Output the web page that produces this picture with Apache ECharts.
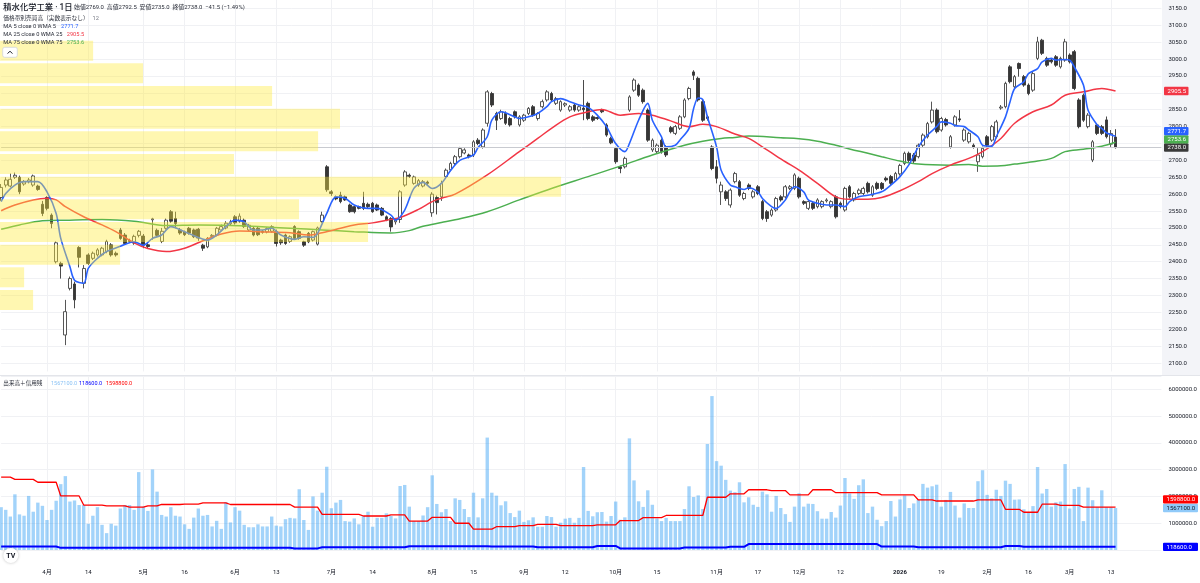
<!DOCTYPE html>
<html><head><meta charset="utf-8">
<script src="https://cdn.jsdelivr.net/npm/echarts@6/dist/echarts.min.js"></script>
<style>html,body{margin:0;padding:0;background:#fff}#c{width:1200px;height:583px}</style>
</head><body><div id="c"></div>
<script>
// ---------- DATA ----------
const holidays = ['2025-03-20','2025-04-29','2025-05-05','2025-05-06','2025-07-21','2025-08-11','2025-09-15','2025-09-23','2025-10-13','2025-11-03','2025-11-24','2025-12-31','2026-01-01','2026-01-02','2026-01-12','2026-02-11','2026-02-23'];
const firstDay = '2025-03-17', lastDay = '2026-03-16';
const tickDates = ['2025-04-01','2025-04-14','2025-05-01','2025-05-16','2025-06-02','2025-06-13','2025-07-01','2025-07-14','2025-08-01','2025-08-15','2025-09-01','2025-09-12','2025-10-01','2025-10-15','2025-11-04','2025-11-17','2025-12-01','2025-12-12','2026-01-05','2026-01-19','2026-02-02','2026-02-16','2026-03-02','2026-03-13'];
const tickText = ['4月','14','5月','16','6月','13','7月','14','8月','15','9月','12','10月','15','11月','17','12月','12','2026','19','2月','16','3月','13'];
const priceTicks = [2100,3150,50];

// [open, close, low, high]
const ohlc = [
[2590,2620,2580,2630],[2627,2642,2620,2650],[2624,2644,2620,2661],[2650,2656,2645,2664],[2650,2607,2600,2655],[2630,2637,2625,2642],[2637,2642,2632,2648],[2627,2654,2622,2658],[2624,2614,2610,2628],[2570,2543,2535,2580],
[2590,2558,2552,2594],[2538,2513,2499,2543],[2400,2456,2395,2460],[2395,2387,2350,2400],[2183,2252,2153,2287],[2321,2350,2315,2356],[2334,2287,2262,2341],[2442,2413,2383,2446],[2336,2380,2321,2390],[2420,2395,2390,2425],
[2410,2425,2405,2430],[2420,2435,2415,2440],[2420,2440,2416,2444],[2430,2460,2425,2465],[2450,2420,2415,2455],[2425,2420,2415,2430],[2494,2469,2465,2500],[2479,2454,2450,2485],[2463,2460,2455,2468],[2455,2475,2450,2480],
[2478,2490,2472,2494],[2476,2449,2440,2482],[2450,2445,2440,2455],[2524,2527,2465,2530],[2493,2478,2473,2498],[2460,2490,2455,2500],[2499,2523,2495,2528],[2548,2520,2515,2553],[2528,2513,2499,2548],[2494,2485,2480,2500],
[2488,2480,2476,2492],[2499,2485,2480,2503],[2494,2474,2470,2498],[2496,2470,2462,2500],[2449,2440,2432,2453],[2444,2469,2440,2473],[2475,2478,2470,2482],[2479,2499,2475,2503],[2494,2504,2490,2510],[2500,2514,2496,2520],
[2512,2518,2508,2524],[2533,2515,2510,2538],[2520,2535,2515,2543],[2523,2504,2500,2528],[2494,2508,2490,2512],[2499,2479,2475,2503],[2499,2480,2476,2504],[2490,2487,2483,2494],[2488,2498,2484,2502],[2490,2504,2486,2508],
[2489,2454,2445,2495],[2464,2456,2450,2468],[2479,2454,2450,2483],[2460,2474,2456,2478],[2504,2469,2465,2508],[2489,2469,2465,2493],[2459,2449,2444,2462],[2484,2459,2455,2488],[2464,2489,2460,2492],[2452,2500,2448,2504],
[2519,2538,2515,2548],[2681,2613,2607,2686],[2607,2602,2595,2612],[2592,2586,2582,2596],[2597,2578,2573,2607],[2592,2583,2580,2596],[2568,2548,2545,2572],[2563,2548,2543,2566],[2563,2558,2555,2566],[2573,2558,2553,2607],
[2570,2563,2558,2575],[2573,2548,2545,2577],[2568,2553,2550,2572],[2558,2538,2535,2562],[2533,2523,2520,2537],[2528,2503,2489,2532],[2518,2523,2510,2527],[2525,2607,2515,2612],[2627,2666,2622,2671],[2656,2653,2648,2661],
[2632,2651,2628,2655],[2627,2640,2622,2645],[2624,2637,2620,2642],[2636,2632,2626,2640],[2545,2600,2533,2606],[2590,2575,2540,2596],[2592,2632,2580,2640],[2652,2671,2645,2676],[2672,2691,2668,2696],[2691,2711,2686,2716],
[2711,2735,2706,2740],[2722,2731,2718,2736],[2716,2711,2706,2720],[2716,2755,2710,2760],[2760,2750,2745,2766],[2740,2790,2735,2795],[2810,2903,2800,2908],[2898,2864,2858,2903],[2839,2819,2790,2844],[2824,2844,2820,2850],
[2839,2810,2805,2845],[2824,2805,2800,2829],[2844,2829,2824,2848],[2805,2829,2800,2834],[2819,2834,2814,2838],[2839,2854,2834,2858],[2859,2834,2829,2864],[2824,2839,2818,2843],[2859,2874,2854,2880],[2879,2903,2874,2908],
[2898,2879,2874,2903],[2869,2883,2864,2888],[2849,2874,2844,2878],[2864,2868,2858,2872],[2849,2859,2844,2864],[2864,2849,2844,2868],[2849,2859,2844,2863],[2855,2850,2819,2938],[2869,2824,2819,2874],[2829,2819,2814,2834],
[2827,2824,2820,2830],[2849,2844,2840,2853],[2805,2775,2770,2810],[2765,2752,2748,2770],[2735,2696,2690,2740],[2681,2676,2662,2685],[2681,2706,2676,2711],[2849,2888,2844,2893],[2908,2938,2903,2943],[2923,2893,2888,2928],
[2908,2874,2868,2913],[2849,2760,2755,2854],[2731,2760,2725,2765],[2726,2745,2720,2750],[2760,2726,2720,2765],[2740,2716,2710,2745],[2797,2785,2780,2802],[2780,2800,2775,2805],[2795,2829,2790,2834],[2829,2879,2825,2884],
[2883,2913,2878,2918],[2962,2952,2938,2967],[2943,2879,2874,2948],[2874,2819,2814,2879],[2829,2824,2818,2834],[2740,2676,2671,2745],[2681,2647,2632,2701],[2607,2627,2568,2637],[2607,2587,2580,2612],[2568,2612,2560,2617],
[2637,2661,2632,2666],[2637,2597,2592,2642],[2587,2602,2582,2607],[2627,2617,2612,2632],[2592,2607,2587,2612],[2622,2602,2597,2627],[2578,2528,2523,2583],[2548,2528,2518,2553],[2538,2553,2533,2558],[2553,2587,2548,2592],
[2592,2583,2578,2597],[2592,2622,2587,2627],[2617,2622,2612,2627],[2617,2657,2612,2662],[2647,2592,2587,2652],[2578,2573,2568,2582],[2558,2578,2553,2582],[2573,2558,2553,2578],[2563,2583,2558,2588],[2563,2578,2558,2582],
[2580,2583,2575,2588],[2563,2578,2558,2582],[2592,2533,2528,2597],[2573,2563,2558,2578],[2553,2617,2548,2622],[2622,2592,2587,2627],[2583,2602,2578,2607],[2602,2612,2597,2617],[2602,2617,2597,2622],[2632,2607,2602,2637],
[2597,2622,2592,2627],[2632,2617,2612,2637],[2632,2617,2612,2636],[2647,2642,2637,2652],[2652,2632,2627,2657],[2642,2661,2637,2666],[2660,2685,2655,2690],[2691,2721,2686,2726],[2721,2700,2695,2726],[2716,2698,2692,2722],
[2711,2745,2706,2750],[2745,2775,2740,2780],[2770,2809,2765,2814],[2814,2849,2809,2874],[2849,2785,2780,2854],[2790,2824,2785,2829],[2821,2805,2800,2826],[2740,2770,2735,2775],[2805,2829,2800,2834],[2823,2820,2814,2849],
[2760,2790,2755,2795],[2755,2780,2750,2785],[2745,2740,2735,2750],[2696,2716,2666,2736],[2711,2736,2706,2741],[2770,2745,2740,2775],[2760,2800,2755,2805],[2770,2814,2765,2820],[2855,2858,2850,2864],[2859,2928,2854,2933],
[2977,2933,2928,2982],[2918,2948,2913,2953],[2987,2972,2948,2990],[2948,2923,2918,2953],[2923,2898,2893,2928],[2908,2957,2903,2962],[3002,3051,2997,3066],[3056,3017,3012,3060],[3002,2982,2977,3007],[2997,2992,2987,3002],
[3007,2982,2977,3012],[2977,3002,2972,3007],[2997,3051,2992,3060],[3012,2992,2987,3017],[3022,2913,2908,3027],[2879,2800,2795,2884],[2893,2819,2814,2898],[2800,2834,2795,2840],[2701,2755,2695,2760],[2805,2780,2775,2810],
[2800,2780,2775,2805],[2820,2770,2765,2830],[2748,2779.5,2740,2790],[2769,2738,2735,2792.5]
];

// volume, in 10,000 shares
const volume = [
160,150,125,208,133,128,202,143,177,165, 112,150,184,246,276,181,185,168,168,98,
128,160,94,63,98,91,155,168,168,150, 291,162,146,301,218,131,125,160,128,125,
96,79,121,155,128,131,88,109,79,179, 103,160,147,94,85,85,96,88,88,125,
91,88,115,120,118,227,112,75,200,147, 214,311,156,177,187,108,106,118,96,127,
143,87,120,120,137,127,118,239,243,162, 108,108,129,160,279,172,141,153,108,193,
187,153,123,214,122,193,420,214,203,167, 182,138,123,147,105,111,122,87,87,127,
123,87,102,117,120,102,120,310,146,126, 141,142,106,127,181,113,122,417,260,182,
161,223,169,118,108,120,108,108,108,153, 238,198,204,153,396,575,332,315,262,222,
216,253,178,197,169,161,218,208,143,202, 157,134,105,162,212,162,173,172,145,117,
117,142,121,166,269,211,191,242,264,138, 162,113,89,108,183,125,189,204,157,174,
187,247,233,238,244,162,187,217,166,121, 174,157,157,257,298,206,193,225,202,259,
247,188,189,152,140,164,310,211,228,162, 178,181,321,155,228,236,108,233,186,160,
223,160,160,156.71
];

// margin buying balance (red), in 10,000 shares
const marginBuy = [
272,272,272,264,264,264,264,264,253,253, 253,253,253,202,202,202,202,202,168,168,
168,168,168,165,165,165,165,165,160,160, 160,160,165,165,165,170,170,170,170,170,
171,171,171,171,176,176,176,176,176,176, 170,170,170,170,170,170,170,170,170,170,
170,170,170,170,160,160,160,160,160,160, 133,133,133,133,133,133,133,133,133,127,
127,127,127,127,127,131,131,131,131,108, 108,108,108,108,122,122,122,122,122,100,
100,100,100,78,78,78,78,78,87,87, 87,87,87,91,91,91,91,96,96,96,
96,96,91,91,91,91,91,91,91,91, 94,94,94,94,94,110,110,110,110,110,
121,121,121,121,121,129,129,129,129,129, 129,129,129,129,197,197,197,197,197,210,
210,210,210,225,225,225,225,225,222,222, 222,222,206,206,206,206,206,225,225,225,
225,225,214,214,214,214,214,214,214,214, 214,214,206,206,206,206,206,206,206,206,
187,187,187,187,183,183,183,183,183,183, 183,183,183,187,187,187,187,187,187,152,
152,152,152,141,141,141,141,171,171,171, 171,167,167,167,167,167,159.88,159.88,159.88,159.88,
159.88,159.88,159.88,159.88
];

// margin selling balance (blue), in 10,000 shares
const marginSell = [
13,13,13,13,13,13,13,13,13,13, 13,13,13,8,8,8,8,8,8,8,
8,8,8,8,8,8,8,8,8,8, 8,8,8,8,8,8,8,8,8,8,
8,8,8,8,8,8,8,8,8,8, 8,8,8,8,8,8,8,8,8,8,
8,8,8,8,6,6,6,6,6,6, 10,10,10,10,10,10,10,10,10,10,
10,10,10,10,10,10,10,10,10,14, 14,14,14,14,14,14,14,14,14,14,
14,14,14,14,14,14,14,13,13,13, 13,13,13,13,13,13,13,10,10,10,
10,10,10,10,10,10,10,10,10,10, 15,15,15,15,15,6,6,6,6,6,
6,6,6,6,6,6,6,6,6,9, 9,9,9,9,9,9,9,9,9,12,
12,12,12,22,22,22,22,22,22,22, 22,22,22,22,22,22,22,22,22,22,
22,22,22,22,22,22,22,22,22,22, 22,22,13,13,13,13,13,13,13,13,
10,10,10,10,10,10,10,10,10,10, 10,10,10,10,10,10,10,10,10,15,
15,15,15,11.86,11.86,11.86,11.86,11.86,11.86,11.86, 11.86,11.86,11.86,11.86,11.86,11.86,11.86,11.86,11.86,11.86,
11.86,11.86,11.86,11.86
];

// moving averages: [bar index, value]
const wma5 = [[0,2578],[1,2602],[3,2627],[5,2637],[8,2637],[10,2607],[12,2543],[13,2469],[15,2385],[16,2345],[18,2336],[19,2380],[21,2410],[23,2430],[26,2446],[29,2459],[31,2449],[33,2469],[35,2479],[37,2504],[40,2489],[43,2472],[45,2464],[47,2479],[49,2504],[51,2523],[53,2518],[55,2494],[57,2494],[59,2499],[61,2479],[64,2466],[66,2474],[68,2472],[69,2484],[71,2543],[73,2592],[75,2588],[77,2568],[80,2558],[82,2558],[85,2538],[86,2523],[88,2553],[90,2617],[92,2635],[94,2617],[96,2632],[98,2670],[100,2700],[103,2716],[104,2738],[106,2770],[107,2819],[109,2844],[110,2841],[112,2829],[113,2824],[115,2829],[117,2839],[119,2859],[120,2874],[122,2883],[124,2874],[126,2864],[128,2857],[130,2834],[132,2800],[134,2750],[136,2726],[137,2750],[139,2819],[141,2869],[142,2819],[144,2770],[145,2740],[147,2745],[148,2760],[150,2795],[151,2854],[152,2885],[153,2880],[154,2829],[156,2740],[157,2671],[159,2627],[160,2622],[162,2614],[163,2619],[165,2607],[166,2587],[168,2563],[169,2558],[171,2583],[172,2607],[173,2622],[175,2607],[176,2583],[178,2573],[180,2568],[182,2568],[184,2563],[185,2578],[187,2592],[189,2597],[192,2607],[194,2627],[196,2652],[198,2688],[200,2740],[202,2775],[204,2800],[205,2814],[207,2810],[208,2803],[210,2800],[211,2790],[213,2770],[214,2745],[216,2742],[217,2770],[219,2829],[220,2874],[221,2913],[223,2933],[224,2957],[226,2972],[227,2992],[229,3002],[230,2997],[232,2999],[233,2997],[234,2977],[236,2923],[237,2849],[239,2805],[240,2795],[241,2782],[243,2771.7]];
const wma25 = [[0,2551],[3,2568],[7,2583],[10,2588],[12,2583],[14,2563],[18,2533],[22,2509],[25,2489],[29,2456],[32,2439],[36,2430],[40,2440],[44,2462],[48,2482],[52,2491],[56,2489],[63,2486],[67,2479],[70,2486],[74,2499],[77,2509],[81,2515],[84,2523],[87,2531],[91,2555],[94,2578],[96,2588],[99,2600],[106,2657],[113,2726],[117,2765],[120,2795],[124,2829],[128,2844],[131,2851],[135,2834],[139,2839],[142,2834],[146,2817],[150,2800],[153,2807],[156,2800],[160,2778],[163,2765],[167,2731],[171,2696],[174,2671],[178,2632],[182,2592],[185,2585],[189,2585],[192,2590],[196,2610],[200,2637],[203,2661],[207,2686],[211,2706],[214,2726],[218,2765],[221,2810],[225,2844],[229,2864],[232,2893],[236,2903],[240,2913],[243,2905.5]];
const wma75 = [[0,2496],[4,2509],[9,2521],[14,2523],[22,2525],[29,2520],[36,2507],[43,2509],[48,2508],[56,2504],[63,2499],[70,2494],[77,2489],[85,2485],[89,2492],[92,2505],[96,2516],[99,2524],[106,2548],[113,2583],[120,2617],[128,2652],[135,2683],[142,2716],[149,2745],[153,2757],[157,2765],[160,2768],[163,2772],[170,2767],[174,2764],[178,2757],[182,2745],[185,2734],[189,2721],[192,2711],[196,2698],[200,2689],[207,2686],[211,2688],[214,2683],[218,2684],[221,2689],[225,2696],[229,2706],[232,2726],[236,2733],[240,2742],[243,2753.6]];

// volume profile (relative, largest row = 100), top row first
const profileBins = ['2989-3056','2922-2989','2855-2922','2788-2855','2721-2788','2654-2721','2587-2654','2520-2587','2453-2520','2386-2453','2319-2386','2252-2319'];
const profileVol = [16.6,25.5,48.5,60.6,56.7,41.7,100,53.3,65.6,21.4,4.3,5.9];

// ---------- BUILD ----------
function tradingDays(){
  const out=[]; const d=new Date(firstDay+'T00:00:00Z'); const end=new Date(lastDay+'T00:00:00Z').getTime();
  while(d.getTime()<=end){ const w=d.getUTCDay(); const s=d.toISOString().slice(0,10);
    if(w!==0&&w!==6&&holidays.indexOf(s)<0) out.push(s); d.setUTCDate(d.getUTCDate()+1); }
  return out;
}
const dates = tradingDays();
const SLOTS = 254;
const cats = dates.concat(Array.from({length: SLOTS-dates.length}, (_,k)=>'pad'+k));
const tickMap = {}; tickDates.forEach((d,i)=>tickMap[d]=tickText[i]);
const isTick = (idx, val) => tickMap[val] !== undefined;
const FF = 'Roboto, "Noto Sans CJK JP", "Noto Sans", sans-serif';
const GL = 1.14, GR = 38.6;
const gridLine = '#f0f1f4';
const M = 1e4;

const chart = echarts.init(document.getElementById('c'));
const option = {
  animation:false, backgroundColor:'#ffffff',
  textStyle:{fontFamily:FF},
  grid:[
    {left:GL, right:GR, top:0, height:371.45, outerBoundsMode:'none'},
    {left:GL, right:GR, top:376, height:174, outerBoundsMode:'none'},
    {left:0, right:GR, top:39.3, height:272, outerBoundsMode:'none'}
  ],
  xAxis:[
    {type:'category', gridIndex:0, data:cats, boundaryGap:false, axisLine:{show:false}, axisTick:{show:false}, axisLabel:{show:false},
     splitLine:{show:true, interval:isTick, lineStyle:{color:gridLine, width:1}}},
    {type:'category', gridIndex:1, data:cats, boundaryGap:false, axisLine:{show:false}, axisTick:{show:false},
     axisLabel:{interval:isTick, margin:19, fontSize:6, color:'#131722', fontFamily:FF,
       formatter:v=> v==='2026-01-05' ? '{b|2026}' : (tickMap[v]||''), rich:{b:{fontWeight:'bold', fontSize:6, color:'#131722', fontFamily:FF}}},
     splitLine:{show:true, interval:isTick, lineStyle:{color:gridLine, width:1}}},
    {type:'value', gridIndex:2, min:0, max:207, show:false}
  ],
  yAxis:[
    {type:'value', gridIndex:0, position:'right', min:2075, max:3175, interval:25, scale:true,
     axisLine:{show:false}, axisTick:{show:false},
     axisLabel:{margin:7, fontSize:6, color:'#131722', fontFamily:FF, formatter:v=> (v%priceTicks[2]===0 && v>=priceTicks[0] && v<=priceTicks[1]) ? v.toFixed(1) : ''},
     splitLine:{show:true, lineStyle:{color:['rgba(0,0,0,0)', gridLine], width:1}}},
    {type:'value', gridIndex:1, position:'right', min:0, max:6.5e6, interval:1e6,
     axisLine:{show:false}, axisTick:{show:false},
     axisLabel:{margin:7, fontSize:6, color:'#131722', fontFamily:FF, showMaxLabel:false, showMinLabel:false, formatter:v=>v.toFixed(1)},
     splitLine:{show:true, lineStyle:{color:gridLine, width:1}}},
    {type:'category', gridIndex:2, data:profileBins, inverse:true, show:false}
  ],
  series:[
    {type:'candlestick', name:'price', xAxisIndex:0, yAxisIndex:0, data:ohlc, barWidth:3.2, z:2,
     itemStyle:{color:'#ffffff', color0:'#363636', borderColor:'#444444', borderColor0:'#363636', borderWidth:0.9},
     markLine:{silent:true, symbol:'none', label:{show:false}, lineStyle:{color:'#c8cad0', width:1, type:'solid'},
       data:[{yAxis: ohlc[ohlc.length-1][1]}]}},
    {type:'line', name:'WMA75', xAxisIndex:0, yAxisIndex:0, data:wma75, showSymbol:false, smooth:0.35, z:3, lineStyle:{color:'#4caf50', width:1.5}},
    {type:'line', name:'WMA25', xAxisIndex:0, yAxisIndex:0, data:wma25, showSymbol:false, smooth:0.35, z:3, lineStyle:{color:'#f23645', width:1.5}},
    {type:'line', name:'WMA5', xAxisIndex:0, yAxisIndex:0, data:wma5, showSymbol:false, smooth:0.3, z:3, lineStyle:{color:'#2962ff', width:1.6}},
    {type:'bar', name:'profile', xAxisIndex:2, yAxisIndex:2, data:profileVol, barWidth:20, z:6, silent:true, itemStyle:{color:'rgba(255,235,59,0.4)'}},
    {type:'bar', name:'volume', xAxisIndex:1, yAxisIndex:1, data:volume.map(v=>v*M), barWidth:'74%', z:2, itemStyle:{color:'rgba(33,150,243,0.42)'}},
    {type:'line', name:'buy', xAxisIndex:1, yAxisIndex:1, data:marginBuy.map(v=>v*M), showSymbol:false, z:3, lineStyle:{color:'#ff0000', width:1.3}},
    {type:'line', name:'sell', xAxisIndex:1, yAxisIndex:1, data:marginSell.map(v=>v*M), showSymbol:false, z:3, lineStyle:{color:'#0000ff', width:2}}
  ]
};
chart.setOption(option);

// ---------- annotations ----------
const last = ohlc[ohlc.length-1], prev = ohlc[ohlc.length-2];
const chg = last[1]-prev[1], pct = chg/prev[1]*100;
const lastOf = a => a[a.length-1][1];
const txt = (x,y,text,fill,size,weight) => ({type:'text', x:x, y:y, z:50, silent:true,
  style:{text:text, fill:fill, fontSize:size, fontWeight:weight||'normal', fontFamily:FF, verticalAlign:'middle', align:'left'}});
const G = [];
G.push({type:'rect', z:-20, silent:true, shape:{x:1162, y:0, width:38, height:375}, style:{fill:'#f3f4f8'}});
G.push({type:'line', z:40, silent:true, shape:{x1:0, y1:375.5, x2:1200, y2:375.5}, style:{stroke:'#e3e5ea', lineWidth:1}});
G.push(txt(3.3, 7.6, '積水化学工業 · 1日', '#131722', 8.3, 500));
G.push(txt(74, 7.8, '始値'+last[0].toFixed(1)+'  高値'+last[3].toFixed(1)+'  安値'+last[2].toFixed(1)+'  終値'+last[1].toFixed(1)+'  '+(chg<0?'−':'+')+Math.abs(chg).toFixed(1)+' ('+(pct<0?'−':'+')+Math.abs(pct).toFixed(2)+'%)', '#2a2e39', 5.9));
G.push(txt(3.3, 18.3, '価格帯別売買高（実数表示なし）', '#2a2e39', 5.7));
G.push(txt(92.5, 18.3, String(profileVol.length), '#787b86', 5.7));
G.push(txt(3.3, 26.6, 'MA 5 close 0 WMA 5', '#2a2e39', 5.7));
G.push(txt(61, 26.6, lastOf(wma5).toFixed(1), '#2962ff', 5.7));
G.push(txt(3.3, 34.5, 'MA 25 close 0 WMA 25', '#2a2e39', 5.7));
G.push(txt(66.7, 34.5, lastOf(wma25).toFixed(1), '#f23645', 5.7));
G.push(txt(3.3, 42.6, 'MA 75 close 0 WMA 75', '#2a2e39', 5.7));
G.push(txt(66.7, 42.6, lastOf(wma75).toFixed(1), '#4caf50', 5.7));
G.push({type:'rect', z:50, silent:true, shape:{x:2.7, y:47.3, width:14.6, height:10, r:2}, style:{fill:'#ffffff', stroke:'#d1d4dc', lineWidth:0.8}});
G.push({type:'polyline', z:51, silent:true, shape:{points:[[7.6,53.6],[10,51.2],[12.4,53.6]]}, style:{stroke:'#131722', lineWidth:1, fill:null}});
G.push(txt(3.3, 383.7, '出来高＋信用残', '#2a2e39', 5.6));
G.push(txt(51, 383.7, (volume[volume.length-1]*M).toFixed(1), '#8cc3f5', 5.5));
G.push(txt(79, 383.7, (marginSell[marginSell.length-1]*M).toFixed(1), '#0000ff', 5.5));
G.push(txt(106, 383.7, (marginBuy[marginBuy.length-1]*M).toFixed(1), '#ff0000', 5.5));
G.push({type:'circle', z:50, silent:true, shape:{cx:10.8, cy:555.5, r:7.5}, style:{fill:'#ffffff', shadowBlur:3, shadowColor:'rgba(0,0,0,0.25)'}});
G.push({type:'text', z:51, silent:true, x:10.8, y:555.8, style:{text:'TV', fill:'#131722', fontSize:7, fontWeight:'bold', fontFamily:FF, align:'center', verticalAlign:'middle'}});

// value tags (anchored on the first entry, others pushed up when they overlap)
function tags(list, axisIdx, gap, x, w){
  list.forEach(t=>t.y=chart.convertToPixel({yAxisIndex:axisIdx}, t.v));
  let ref = list[0].y;
  const above = list.slice(1).sort((p,q)=>q.y-p.y);
  above.forEach(t=>{ if(t.y>ref-gap) t.y=ref-gap; ref=t.y; });
  list.forEach(t=>{
    G.push({type:'rect', z:60, silent:true, shape:{x:x, y:t.y-4.2, width:w, height:8.4, r:1}, style:{fill:t.bg}});
    G.push({type:'text', z:61, silent:true, x:x+3.6, y:t.y+0.2, style:{text:t.v.toFixed(1), fill:t.fg, fontSize:6, fontFamily:FF, verticalAlign:'middle', align:'left'}});
  });
}
tags([
  {v:last[1], bg:'#3a3a3a', fg:'#ffffff'},
  {v:lastOf(wma75), bg:'#4caf50', fg:'#ffffff'},
  {v:lastOf(wma5), bg:'#2962ff', fg:'#ffffff'},
  {v:lastOf(wma25), bg:'#f23645', fg:'#ffffff'}
], 0, 8.2, 1164, 24.5);
tags([
  {v:volume[volume.length-1]*M, bg:'#90caf9', fg:'#131722'},
  {v:marginBuy[marginBuy.length-1]*M, bg:'#ff0000', fg:'#ffffff'}
], 1, 8.7, 1163, 35);
tags([
  {v:marginSell[marginSell.length-1]*M, bg:'#0000ff', fg:'#ffffff'}
], 1, 8.7, 1163, 35);
chart.setOption({graphic:G});
</script></body></html>
